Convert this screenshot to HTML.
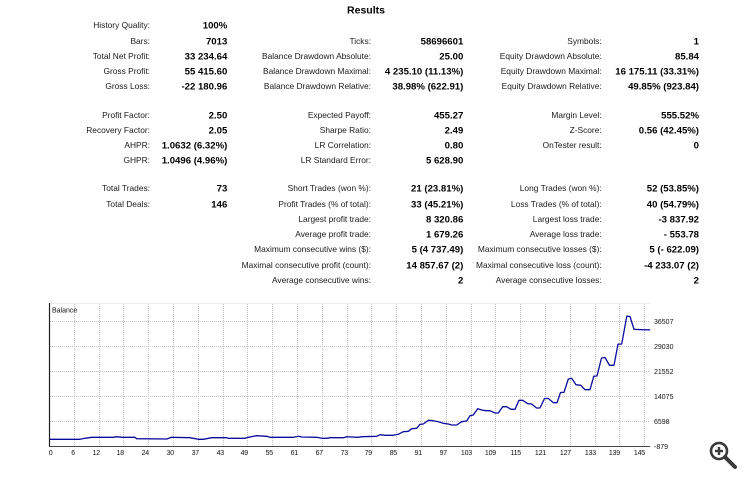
<!DOCTYPE html>
<html><head><meta charset="utf-8">
<style>
html,body{margin:0;padding:0;background:#fff;}
body{width:750px;height:481px;position:relative;overflow:hidden;font-family:"Liberation Sans",Arial,sans-serif;}
.t{position:absolute;white-space:nowrap;line-height:12px;height:12px;text-align:right;}
.l{font-size:8.4px;color:#1a1a1a;}
.v{font-size:9.6px;font-weight:bold;color:#000;transform:translateY(1.5px);}
svg{position:absolute;left:0;top:0;}
</style></head><body>
<svg width="750" height="481" viewBox="0 0 750 481" xmlns="http://www.w3.org/2000/svg">
  <rect x="0" y="0" width="750" height="481" fill="#fff"/>
  <line x1="49" y1="303.5" x2="650" y2="303.5" stroke="#ececec" stroke-width="1"/>
  <g stroke="#c4c4c4" stroke-width="1" stroke-dasharray="1 1">
    <line x1="50" y1="321.5" x2="650" y2="321.5"/>
    <line x1="50" y1="346.5" x2="650" y2="346.5"/>
    <line x1="50" y1="371.5" x2="650" y2="371.5"/>
    <line x1="50" y1="396.5" x2="650" y2="396.5"/>
    <line x1="50" y1="421.5" x2="650" y2="421.5"/>
    <line x1="74.5" y1="304" x2="74.5" y2="446"/>
    <line x1="99.5" y1="304" x2="99.5" y2="446"/>
    <line x1="123.5" y1="304" x2="123.5" y2="446"/>
    <line x1="148.5" y1="304" x2="148.5" y2="446"/>
    <line x1="173.5" y1="304" x2="173.5" y2="446"/>
    <line x1="198.5" y1="304" x2="198.5" y2="446"/>
    <line x1="223.5" y1="304" x2="223.5" y2="446"/>
    <line x1="247.5" y1="304" x2="247.5" y2="446"/>
    <line x1="272.5" y1="304" x2="272.5" y2="446"/>
    <line x1="297.5" y1="304" x2="297.5" y2="446"/>
    <line x1="322.5" y1="304" x2="322.5" y2="446"/>
    <line x1="347.5" y1="304" x2="347.5" y2="446"/>
    <line x1="371.5" y1="304" x2="371.5" y2="446"/>
    <line x1="396.5" y1="304" x2="396.5" y2="446"/>
    <line x1="421.5" y1="304" x2="421.5" y2="446"/>
    <line x1="446.5" y1="304" x2="446.5" y2="446"/>
    <line x1="471.5" y1="304" x2="471.5" y2="446"/>
    <line x1="495.5" y1="304" x2="495.5" y2="446"/>
    <line x1="520.5" y1="304" x2="520.5" y2="446"/>
    <line x1="545.5" y1="304" x2="545.5" y2="446"/>
    <line x1="570.5" y1="304" x2="570.5" y2="446"/>
    <line x1="595.5" y1="304" x2="595.5" y2="446"/>
    <line x1="619.5" y1="304" x2="619.5" y2="446"/>
    <line x1="644.5" y1="304" x2="644.5" y2="446"/>
  </g>
  <line x1="49.5" y1="303" x2="49.5" y2="447" stroke="#222" stroke-width="1.2"/>
  <line x1="49" y1="446.5" x2="650" y2="446.5" stroke="#444" stroke-width="1"/>
  <text x="52" y="312.5" font-family="Liberation Sans, Arial, sans-serif" font-size="7" fill="#111">Balance</text>
  <polyline fill="none" stroke="#0c0c9c" stroke-width="1.3" stroke-linejoin="round" points="50,439.3 80,439.3 85,438.3 91.7,437.3 113.3,437.3 116.7,436.7 121.7,437.3 135,437.3 136.7,438.7 166.7,439 171.7,437.3 190,437.7 193.3,438.3 198.3,439.3 203.3,439.3 211.7,437.7 226.7,437.7 228.3,438.3 245,438.3 248.3,437.3 256.7,435.7 266.7,436.3 270,437.3 293.3,437.3 298.3,436.3 301.7,437 316.7,437.3 321.7,438.3 326.7,438.3 330,437.7 343.3,437.7 346.7,436.7 351.7,437 358.3,437.3 361.7,436.7 376.7,436.3 380,434.7 385,435.3 393.3,435.3 398.3,434.3 403.3,431.7 408.3,431.3 411.7,428.7 416.7,428.3 420,424.3 423.3,424 428.3,420.3 433.3,420.7 438.3,421.7 443.3,423.3 448.3,424 451.7,425 456.7,425 461.7,421.7 466.7,421 470,415.7 473.3,415 477.7,408.7 481.7,410 486,410.7 490,410.7 495,413 498.3,413 502.7,406.7 506.7,406.7 511,409.3 515,409.3 519,400.3 522.7,400.3 527.7,403.7 531.7,404 536.5,408 540,408 544.5,398.5 548.3,398.5 553.5,402.7 557,402.7 560.5,392.5 564,392.3 568.3,379 571.7,378.3 576,384.7 580.7,385.3 585,389.7 590,389.7 593.8,376.2 597,376 601.5,358 605,357.5 609.5,365.3 614,365.3 618,344.2 621.7,344 626.8,316.2 630,316.5 634,329.3 642,329.7 650,329.8"/>
  <g font-family="Liberation Sans, Arial, sans-serif" font-size="7" fill="#111">
    <text x="654" y="324">36507</text>
    <text x="654" y="349">29030</text>
    <text x="654" y="374">21552</text>
    <text x="654" y="399">14075</text>
    <text x="654" y="424">6598</text>
    <text x="654" y="449">-879</text>
  </g>
  <g font-family="Liberation Sans, Arial, sans-serif" font-size="7" fill="#111" text-anchor="end" letter-spacing="-0.2">
    <text x="52.5" y="455">0</text>
    <text x="75" y="455">6</text>
    <text x="100" y="455">12</text>
    <text x="124" y="455">18</text>
    <text x="149" y="455">24</text>
    <text x="174" y="455">30</text>
    <text x="199" y="455">37</text>
    <text x="224" y="455">43</text>
    <text x="248" y="455">49</text>
    <text x="273" y="455">55</text>
    <text x="298" y="455">61</text>
    <text x="323" y="455">67</text>
    <text x="348" y="455">73</text>
    <text x="372" y="455">79</text>
    <text x="397" y="455">85</text>
    <text x="422" y="455">91</text>
    <text x="447" y="455">97</text>
    <text x="472" y="455">103</text>
    <text x="496" y="455">109</text>
    <text x="521" y="455">115</text>
    <text x="546" y="455">121</text>
    <text x="571" y="455">127</text>
    <text x="596" y="455">133</text>
    <text x="620" y="455">139</text>
    <text x="645" y="455">145</text>
  </g>
  <g>
    <circle cx="719" cy="451" r="8" fill="none" stroke="#3a3a3a" stroke-width="2.6"/>
    <line x1="725" y1="457" x2="735" y2="467" stroke="#3a3a3a" stroke-width="4" stroke-linecap="round"/>
    <line x1="715" y1="451" x2="723" y2="451" stroke="#3a3a3a" stroke-width="2.4"/>
    <line x1="719" y1="447" x2="719" y2="455" stroke="#3a3a3a" stroke-width="2.4"/>
  </g>
</svg>

<div class="t v" style="left:330px;width:72px;text-align:center;top:3px;font-size:10.5px;">Results</div>

<!-- Column 1 -->
<div class="t l" style="right:600px;top:19px">History Quality:</div>
<div class="t v" style="right:522.7px;top:19px">100%</div>
<div class="t l" style="right:600px;top:34.5px">Bars:</div>
<div class="t v" style="right:522.7px;top:34.5px">7013</div>
<div class="t l" style="right:600px;top:49.8px">Total Net Profit:</div>
<div class="t v" style="right:522.7px;top:49.8px">33 234.64</div>
<div class="t l" style="right:600px;top:65px">Gross Profit:</div>
<div class="t v" style="right:522.7px;top:65px">55 415.60</div>
<div class="t l" style="right:600px;top:80.2px">Gross Loss:</div>
<div class="t v" style="right:522.7px;top:80.2px">-22 180.96</div>
<div class="t l" style="right:600px;top:109px">Profit Factor:</div>
<div class="t v" style="right:522.7px;top:109px">2.50</div>
<div class="t l" style="right:600px;top:124.2px">Recovery Factor:</div>
<div class="t v" style="right:522.7px;top:124.2px">2.05</div>
<div class="t l" style="right:600px;top:139px">AHPR:</div>
<div class="t v" style="right:522.7px;top:139px">1.0632 (6.32%)</div>
<div class="t l" style="right:600px;top:154px">GHPR:</div>
<div class="t v" style="right:522.7px;top:154px">1.0496 (4.96%)</div>
<div class="t l" style="right:600px;top:182.4px">Total Trades:</div>
<div class="t v" style="right:522.7px;top:182.4px">73</div>
<div class="t l" style="right:600px;top:197.5px">Total Deals:</div>
<div class="t v" style="right:522.7px;top:197.5px">146</div>

<!-- Column 2 -->
<div class="t l" style="right:379px;top:34.5px">Ticks:</div>
<div class="t v" style="right:286.7px;top:34.5px">58696601</div>
<div class="t l" style="right:379px;top:49.8px">Balance Drawdown Absolute:</div>
<div class="t v" style="right:286.7px;top:49.8px">25.00</div>
<div class="t l" style="right:379px;top:65px">Balance Drawdown Maximal:</div>
<div class="t v" style="right:286.7px;top:65px">4 235.10 (11.13%)</div>
<div class="t l" style="right:379px;top:80.2px">Balance Drawdown Relative:</div>
<div class="t v" style="right:286.7px;top:80.2px">38.98% (622.91)</div>
<div class="t l" style="right:379px;top:109px">Expected Payoff:</div>
<div class="t v" style="right:286.7px;top:109px">455.27</div>
<div class="t l" style="right:379px;top:124.2px">Sharpe Ratio:</div>
<div class="t v" style="right:286.7px;top:124.2px">2.49</div>
<div class="t l" style="right:379px;top:139px">LR Correlation:</div>
<div class="t v" style="right:286.7px;top:139px">0.80</div>
<div class="t l" style="right:379px;top:154px">LR Standard Error:</div>
<div class="t v" style="right:286.7px;top:154px">5 628.90</div>
<div class="t l" style="right:379px;top:182.4px">Short Trades (won %):</div>
<div class="t v" style="right:286.7px;top:182.4px">21 (23.81%)</div>
<div class="t l" style="right:379px;top:197.5px">Profit Trades (% of total):</div>
<div class="t v" style="right:286.7px;top:197.5px">33 (45.21%)</div>
<div class="t l" style="right:379px;top:213px">Largest profit trade:</div>
<div class="t v" style="right:286.7px;top:213px">8 320.86</div>
<div class="t l" style="right:379px;top:228px">Average profit trade:</div>
<div class="t v" style="right:286.7px;top:228px">1 679.26</div>
<div class="t l" style="right:379px;top:243.2px">Maximum consecutive wins ($):</div>
<div class="t v" style="right:286.7px;top:243.2px">5 (4 737.49)</div>
<div class="t l" style="right:379px;top:258.5px">Maximal consecutive profit (count):</div>
<div class="t v" style="right:286.7px;top:258.5px">14 857.67 (2)</div>
<div class="t l" style="right:379px;top:273.5px">Average consecutive wins:</div>
<div class="t v" style="right:286.7px;top:273.5px">2</div>

<!-- Column 3 -->
<div class="t l" style="right:148.3px;top:34.5px">Symbols:</div>
<div class="t v" style="right:51px;top:34.5px">1</div>
<div class="t l" style="right:148.3px;top:49.8px">Equity Drawdown Absolute:</div>
<div class="t v" style="right:51px;top:49.8px">85.84</div>
<div class="t l" style="right:148.3px;top:65px">Equity Drawdown Maximal:</div>
<div class="t v" style="right:51px;top:65px">16 175.11 (33.31%)</div>
<div class="t l" style="right:148.3px;top:80.2px">Equity Drawdown Relative:</div>
<div class="t v" style="right:51px;top:80.2px">49.85% (923.84)</div>
<div class="t l" style="right:148.3px;top:109px">Margin Level:</div>
<div class="t v" style="right:51px;top:109px">555.52%</div>
<div class="t l" style="right:148.3px;top:124.2px">Z-Score:</div>
<div class="t v" style="right:51px;top:124.2px">0.56 (42.45%)</div>
<div class="t l" style="right:148.3px;top:139px">OnTester result:</div>
<div class="t v" style="right:51px;top:139px">0</div>
<div class="t l" style="right:148.3px;top:182.4px">Long Trades (won %):</div>
<div class="t v" style="right:51px;top:182.4px">52 (53.85%)</div>
<div class="t l" style="right:148.3px;top:197.5px">Loss Trades (% of total):</div>
<div class="t v" style="right:51px;top:197.5px">40 (54.79%)</div>
<div class="t l" style="right:148.3px;top:213px">Largest loss trade:</div>
<div class="t v" style="right:51px;top:213px">-3 837.92</div>
<div class="t l" style="right:148.3px;top:228px">Average loss trade:</div>
<div class="t v" style="right:51px;top:228px">- 553.78</div>
<div class="t l" style="right:148.3px;top:243.2px">Maximum consecutive losses ($):</div>
<div class="t v" style="right:51px;top:243.2px">5 (- 622.09)</div>
<div class="t l" style="right:148.3px;top:258.5px">Maximal consecutive loss (count):</div>
<div class="t v" style="right:51px;top:258.5px">-4 233.07 (2)</div>
<div class="t l" style="right:148.3px;top:273.5px">Average consecutive losses:</div>
<div class="t v" style="right:51px;top:273.5px">2</div>
</body></html>
